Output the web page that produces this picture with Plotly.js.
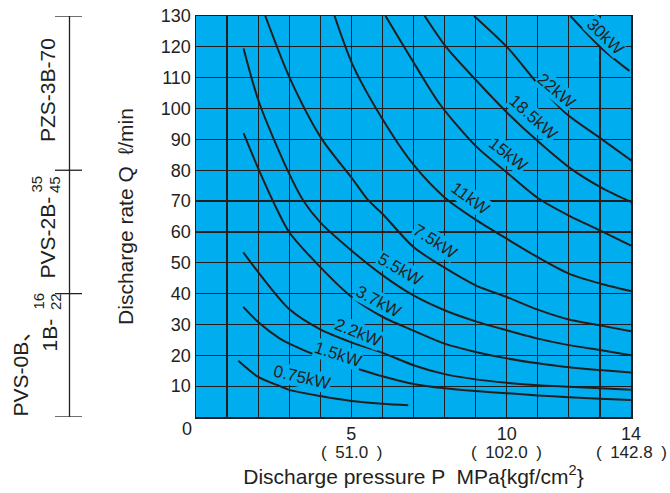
<!DOCTYPE html>
<html>
<head>
<meta charset="utf-8">
<script src="https://cdn.plot.ly/plotly-3.0.1.min.js"></script>
<style>html,body{margin:0;padding:0;background:#fff;}#chart{width:670px;height:493px;}</style>
</head>
<body>
<div id="chart"></div>
<script>
// Pressure P (MPa) and discharge rate Q (L/min), one pair of arrays per motor power
var p075 = [1.36, 2.0, 2.7, 3.0, 4.0, 5.0, 6.0, 6.83];
var q075 = [18.2, 13.0, 10.0, 8.8, 6.8, 5.2, 4.3, 3.8];
var p15 = [1.52, 2.0, 2.7, 3.0, 4.0, 5.0, 6.0, 7.0, 8.0, 9.0, 10.0, 11.0, 12.0, 13.0, 14.0];
var q15 = [35.7, 30.8, 25.4, 23.8, 19.5, 16.3, 13.2, 10.7, 9.3, 8.4, 7.7, 7.0, 6.4, 5.9, 5.5];
var p22 = [1.52, 2.0, 3.0, 4.0, 5.0, 6.0, 7.0, 8.0, 9.0, 10.0, 11.0, 12.0, 13.0, 14.0];
var q22 = [53.4, 47.0, 35.0, 28.4, 24.2, 20.8, 16.8, 13.9, 12.2, 11.1, 10.3, 9.8, 9.3, 8.8];
var p37 = [1.53, 2.04, 2.63, 3.0, 4.0, 5.0, 6.0, 7.0, 8.0, 9.0, 10.0, 11.0, 12.0, 13.0, 14.0];
var q37 = [92.0, 79.7, 66.8, 59.9, 48.6, 39.0, 32.5, 28.0, 23.8, 21.1, 19.0, 17.4, 16.1, 15.2, 14.4];
var p55 = [1.53, 2.04, 2.96, 3.45, 4.0, 5.0, 6.0, 7.0, 8.0, 9.0, 10.0, 11.0, 12.0, 13.0, 14.0];
var q55 = [119.5, 101.7, 79.7, 70.2, 63.1, 54.0, 46.0, 39.4, 34.6, 31.0, 28.1, 25.4, 23.3, 21.7, 20.0];
var p75 = [2.23, 3.03, 4.03, 5.05, 5.55, 6.0, 7.0, 8.0, 9.0, 10.0, 11.0, 12.0, 13.0, 14.0];
var q75 = [130, 109.6, 90.4, 77.0, 70.2, 65.9, 55.1, 48.4, 42.7, 38.9, 34.8, 31.6, 29.7, 27.8];
var p11 = [4.46, 5.05, 6.05, 7.0, 8.0, 9.0, 10.0, 11.0, 12.0, 13.0, 14.0];
var q11 = [130, 114.0, 95.8, 81.8, 71.2, 64.0, 57.8, 51.8, 46.5, 43.3, 40.8];
var p150 = [6.1, 7.06, 7.85, 9.0, 10.0, 11.0, 12.0, 13.0, 14.0];
var q150 = [130, 114.0, 101.4, 87.9, 79.3, 71.0, 65.3, 60.5, 55.6];
var p185 = [7.36, 8.06, 9.03, 10.03, 11.07, 12.04, 13.06, 14.05];
var q185 = [130, 119.8, 109.0, 98.5, 88.8, 80.7, 74.3, 69.5];
var p220 = [8.95, 10.05, 11.0, 11.93, 13.0, 14.05];
var q220 = [130, 119.5, 108.0, 98.2, 90.5, 82.9];
var p300 = [12.05, 13.06, 13.95];
var q300 = [130, 119.5, 112.2];

var powerLabels = ['0.75kW', '1.5kW', '2.2kW', '3.7kW', '5.5kW', '7.5kW', '11kW', '15kW', '18.5kW', '22kW', '30kW'];
var labelP = [3.41, 4.57, 5.21, 5.86, 6.57, 7.69, 8.82, 10.04, 10.85, 11.59, 13.16];
var labelQ = [12.9, 20.4, 27.5, 37.3, 47.8, 56.9, 70.8, 85.0, 97.0, 106.0, 123.2];
var labelAngle = [13, 18, 22, 28, 30, 33, 36, 38, 42, 40, 44];

var xTickVals = [5, 10, 14];
var xTickText = ['5', '10', '14'];
var xTickSub = ['(\u200251.0\u2002)', '(\u2002102.0\u2002)', '(\u2002142.8\u2002)'];
var yTickVals = [10, 20, 30, 40, 50, 60, 70, 80, 90, 100, 110, 120, 130];

var pumpRanges = [0, 40, 80, 130];

var BLUE = '#00aeef';
var INK = '#231f20';
var NARROW = "'Liberation Sans Narrow', 'Arial Narrow', 'Liberation Sans', Arial, sans-serif";
var REG = "'Liberation Sans', Arial, 'Noto Sans CJK JP', sans-serif";

var series = [[p075,q075],[p15,q15],[p22,q22],[p37,q37],[p55,q55],[p75,q75],[p11,q11],[p150,q150],[p185,q185],[p220,q220],[p300,q300]];
var traces = series.map(function (s, i) {
  return {x: s[0], y: s[1], type: 'scatter', mode: 'lines', name: powerLabels[i],
    line: {color: INK, width: 2, shape: 'spline', smoothing: 0.8}, hoverinfo: 'x+y+name'};
});

var annotations = powerLabels.map(function (t, i) {
  return {x: labelP[i], y: labelQ[i], xref: 'x', yref: 'y', text: t, showarrow: false,
    textangle: labelAngle[i], font: {family: NARROW, size: 17, color: INK},
    bgcolor: BLUE, borderpad: 0, xanchor: 'center', yanchor: 'middle'};
});

function px2paperX(px) { return (px - 196) / 435; }
function px2paperY(py) { return (417 - py) / 401; }

// kgf/cm2 equivalents under the MPa ticks
xTickVals.forEach(function (v, i) {
  annotations.push({x: v, y: px2paperY(452), xref: 'x', yref: 'paper', text: xTickSub[i], showarrow: false,
    xanchor: 'center', yanchor: 'middle', font: {family: NARROW, size: 17, color: INK}});
});

annotations.push({x: px2paperX(187), y: px2paperY(429), xref: 'paper', yref: 'paper', text: '0', showarrow: false,
  xanchor: 'center', yanchor: 'middle', font: {family: NARROW, size: 18, color: INK}});

// left pump-model bracket labels
var bfont = {family: REG, size: 21, color: INK};
var sfont = {family: REG, size: 15, color: INK};
function sideLabel(px, py, text, font) {
  annotations.push({x: px2paperX(px), y: px2paperY(py), xref: 'paper', yref: 'paper', text: text,
    textangle: -90, showarrow: false, xanchor: 'center', yanchor: 'middle', font: font});
}
sideLabel(47.5, 90.5, 'PZS-3B-70', bfont);
sideLabel(47.5, 238, 'PVS-2B-', bfont);
sideLabel(36, 184.5, '35', sfont);
sideLabel(54.5, 184.5, '45', sfont);
sideLabel(19.5, 369, 'PVS-0B、', bfont);
sideLabel(48.5, 335, '1B-', bfont);
sideLabel(38, 301.5, '16', sfont);
sideLabel(55.5, 301.5, '22', sfont);

var shapes = [{type: 'line', xref: 'paper', yref: 'y', x0: px2paperX(69.5), x1: px2paperX(69.5),
  y0: pumpRanges[0], y1: pumpRanges[3], line: {color: INK, width: 1.3}}];
pumpRanges.forEach(function (v) {
  shapes.push({type: 'line', xref: 'paper', yref: 'y', x0: px2paperX(55), x1: px2paperX(82),
    y0: v, y1: v, line: {color: INK, width: 1.3}});
});

var layout = {
  width: 670, height: 493,
  margin: {l: 196, r: 39, t: 16, b: 76},
  paper_bgcolor: '#ffffff', plot_bgcolor: BLUE,
  showlegend: false,
  xaxis: {range: [0, 14], tickvals: xTickVals, ticktext: xTickText, ticklabeloverflow: 'allow',
    showgrid: true, gridcolor: INK, gridwidth: 1.2,
    minor: {tick0: 0, dtick: 1, showgrid: true, gridcolor: INK, gridwidth: 1.2},
    showline: true, mirror: true, linecolor: INK, linewidth: 1.5, zeroline: false,
    ticks: '', tickfont: {family: NARROW, size: 18, color: INK},
    title: {text: 'Discharge pressure P  MPa{kgf/cm<sup>2</sup>}', font: {family: REG, size: 21, color: INK}, standoff: 26}},
  yaxis: {range: [0, 130], tickvals: yTickVals, ticklabeloverflow: 'allow',
    showgrid: true, gridcolor: INK, gridwidth: 1.2,
    showline: true, mirror: true, linecolor: INK, linewidth: 1.5, zeroline: false,
    ticks: '', tickfont: {family: NARROW, size: 18, color: INK},
    title: {text: 'Discharge rate Q  ℓ/min', font: {family: REG, size: 21, color: INK}, standoff: 21}},
  annotations: annotations,
  shapes: shapes
};

Plotly.newPlot('chart', traces, layout, {displayModeBar: false, staticPlot: true});
</script>
</body>
</html>
